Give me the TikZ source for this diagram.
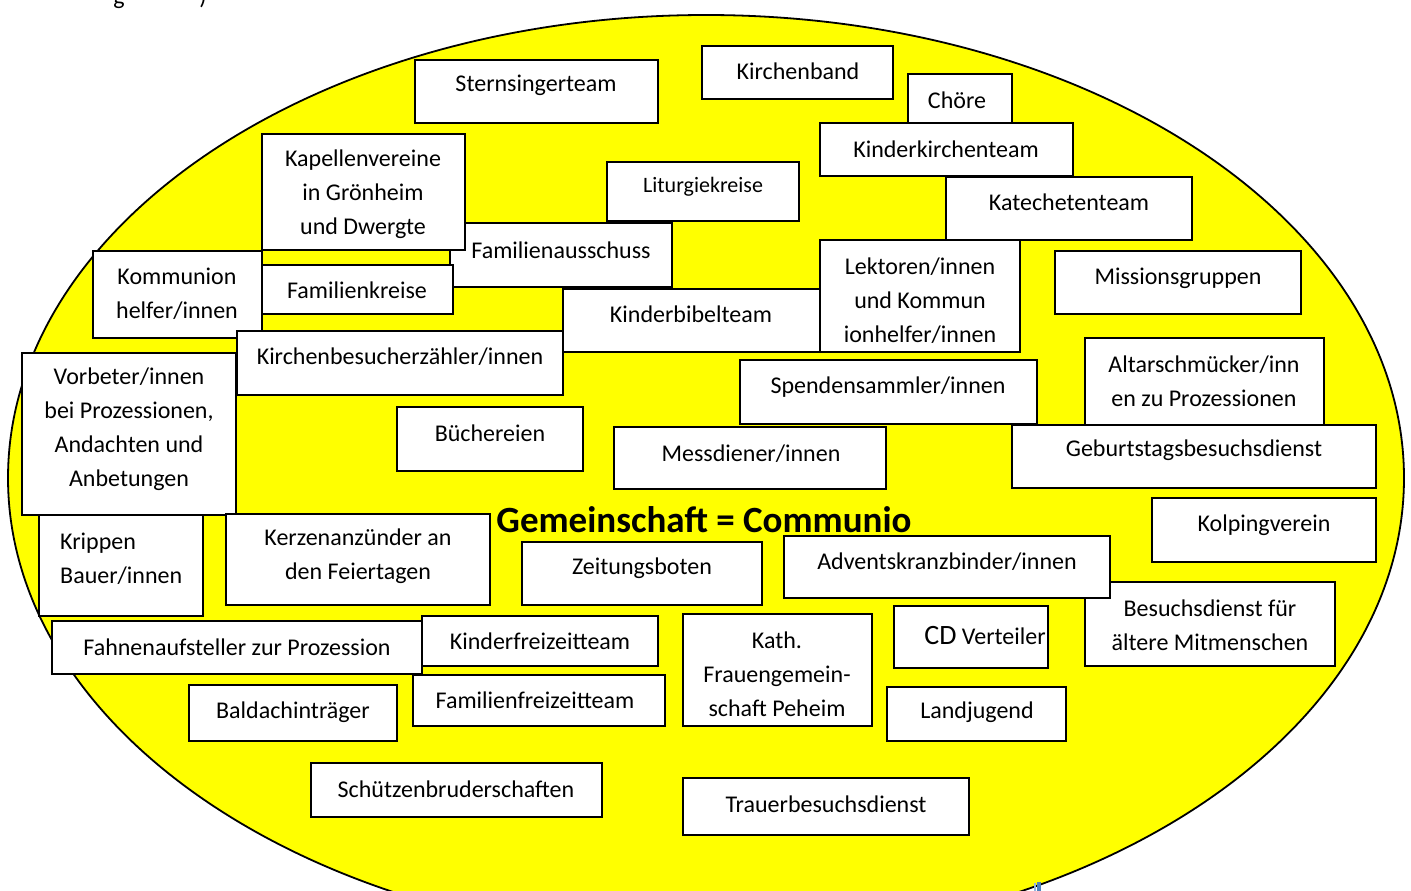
\documentclass[tikz,border=0pt]{standalone}
\usepackage{fontspec}
\setmainfont{Carlito}
\usepackage{xcolor}
\usepackage{tikz}

\definecolor{gelb}{RGB}{255,255,0}
\definecolor{randblau}{RGB}{79,129,189}
\definecolor{randhell}{RGB}{150,180,225}

\tikzset{
  gruppe/.style={draw=black, line width=1.8pt, fill=white, inner sep=0pt},
  gtext/.style={font=\fontsize{24}{34}\selectfont, align=center, inner sep=0pt},
}

\begin{document}
\begin{tikzpicture}[x=1pt,y=-1pt]
\useasboundingbox (0,0) rectangle (1411,891);
% rest of the line above, cut off
\node[gtext, anchor=base] (restg) at (119,5) {g};
\node[gtext, anchor=base] (restk) at (203,5) {)};
\draw[line width=1.8pt, fill=gelb] (706,478) ellipse [x radius=698, y radius=463];
\fill[randhell] (1033.5,883) rectangle (1035.5,891);
\fill[randblau] (1036.8,882) rectangle (1041,891);
\def\gruppen{chor/908/74/1012/130/957/100/{Chöre},
kkt/820/123/1073/176/946/149/{Kinderkirchenteam},
kat/946/177/1192/240/1069/202/{Katechetenteam},
stern/415/60/658/123/536/85/{Sternsingerteam},
band/702/46/893/99/798/71/{Kirchenband},
faus/450/223/672/287/561/250/{Familienausschuss},
kap/262/134/465/250/363/194/{Kapellenvereine\\in Grönheim\\und Dwergte},
lit/607/162/799/221/703/187/{\fontsize{22}{30}\selectfont Liturgiekreise},
fkreis/262/265/453/314/357/290/{Familienkreise},
komm/93/251/262/338/177/294/{Kommunion\\helfer/innen},
kbib/563/289/820/352/691/314/{Kinderbibelteam},
lek/820/240/1020/352/920/301/{Lektoren/innen\\und Kommun\\ionhelfer/innen},
miss/1055/251/1301/314/1178/278/{Missionsgruppen},
kbz/237/331/563/395/400/357/{Kirchenbesucherzähler/innen},
vorb/22/353/236/515/129/429/{Vorbeter/innen\\bei Prozessionen,\\Andachten und\\Anbetungen},
buch/397/407/583/471/490/433/{Büchereien},
spend/740/360/1037/424/888/387/{Spendensammler/innen},
altar/1085/338/1324/425/1204/381/{Altarschmücker/inn\\en zu Prozessionen},
mess/614/427/886/489/751/454/{Messdiener/innen},
geb/1012/425/1376/488/1194/450/{Geburtstagsbesuchsdienst},
kolp/1152/498/1376/562/1264/525/{Kolpingverein},
kerz/226/514/490/605/358/556/{Kerzenanzünder an\\den Feiertagen},
zeit/522/542/762/605/642/568/{Zeitungsboten},
besuch/1085/582/1335/666/1210/625/{Besuchsdienst für\\ältere Mitmenschen},
advent/784/536/1110/598/947/562/{Adventskranzbinder/innen},
cd/894/606/1048/668/985/636/{{\fontsize{28}{34}\selectfont CD} Verteiler},
kfz/422/616/658/666/540/641/{Kinderfreizeitteam},
fahne/52/621/422/674/237/647/{Fahnenaufsteller zur Prozession},
kfd/683/614/872/726/777/674/{Kath.\\Frauengemein-\\schaft Peheim},
bald/189/685/397/741/293/712/{Baldachinträger},
ffz/413/675/665/726/535/700/{Familienfreizeitteam},
land/887/687/1066/741/977/712/{Landjugend},
schuetz/311/763/602/817/456/789/{Schützenbruderschaften},
trauer/683/778/969/835/826/804/{Trauerbesuchsdienst}}
\foreach \nm/\xa/\ya/\xb/\yb/\tx/\ty/\txt in \gruppen {
  \node[gruppe, minimum width=\xb-\xa, minimum height=\yb-\ya] (\nm) at ({(\xa+\xb)/2},{(\ya+\yb)/2}) {};
  \node[gtext] (\nm-t) at (\tx,\ty) {\txt};
}
% Krippe: text left aligned
\node[gruppe, minimum width=164, minimum height=101] (krip) at (121,565.5) {};
\node[gtext, align=left, anchor=west] (krip-t) at (60,559) {Krippen\\Bauer/innen};
\node[font=\bfseries\fontsize{37}{40}\selectfont, inner sep=0pt] (titel) at (704,520) {Gemeinschaft = Communio};
\end{tikzpicture}
\end{document}
